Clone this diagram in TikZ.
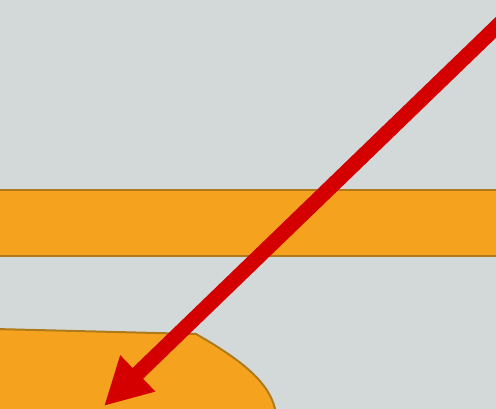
\documentclass[tikz,border=0pt]{standalone}
\usetikzlibrary{arrows.meta}
\definecolor{skygray}{HTML}{D3D9D9}
\definecolor{amber}{HTML}{F5A31F}
\definecolor{amberedge}{HTML}{B07A1A}
\definecolor{signalred}{HTML}{D40000}
\tikzset{
  bandfill/.style = {fill=amber, draw=none},
  bandedge/.style = {draw=amberedge, line width=2pt},
  blobshape/.style = {fill=amber, draw=amberedge, line width=2pt, line join=round},
  bigar/.style = {-{Triangle[length=47pt, width=47pt]}, draw=signalred, line width=15pt}
}
\begin{document}
\begin{tikzpicture}[x=1pt, y=-1pt]
  % ===================== background =====================
  \useasboundingbox (0,0) rectangle (496,409);
  \clip (0,0) rectangle (496,409);
  \fill[skygray] (0,0) rectangle (496,409);

  % ===================== band =====================
  \fill[bandfill] (-5,190) rectangle (501,256);
  \draw[bandedge] (-5,190) -- (501,190);
  \draw[bandedge] (-5,256) -- (501,256);

  % ===================== blob =====================
  \draw[blobshape] (-5,329) -- (196,334)
    .. controls (245,362) and (272,385) .. (276,414) -- (-5,414) -- cycle;

  % ===================== arrow =====================
  \coordinate (start) at (518,6);
  \coordinate (tip) at (104,406);
  \draw[bigar] (start) -- (tip);
\end{tikzpicture}
\end{document}
